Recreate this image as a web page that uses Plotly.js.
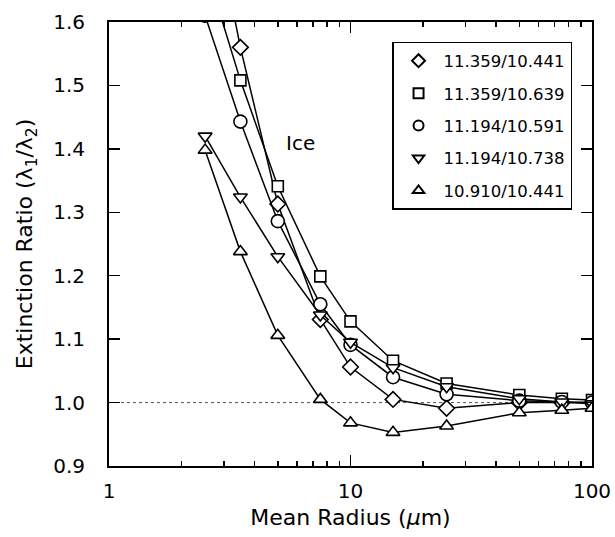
<!DOCTYPE html>
<html>
<head>
<meta charset="utf-8">
<script src="https://cdn.plot.ly/plotly-3.0.1.min.js"></script>
<style>html,body{margin:0;padding:0;background:#fff;}#chart{width:615px;height:537px;}</style>
</head>
<body>
<div id="chart"></div>
<script>
// Mean radius (micrometres)
var radius = [2.5, 3.5, 5, 7.5, 10, 15, 25, 50, 75, 100];

// Extinction ratio series (lambda1/lambda2)
var ratio_11359_10441 = [1.84, 1.56, 1.313, 1.131, 1.056, 1.005, 0.991, 1.0, 1.0, 1.0];
var ratio_11359_10639 = [1.69, 1.508, 1.341, 1.199, 1.128, 1.066, 1.030, 1.012, 1.006, 1.004];
var ratio_11194_10591 = [1.61, 1.443, 1.286, 1.155, 1.091, 1.040, 1.013, 1.003, 1.001, 1.000];
var ratio_11194_10738 = [1.42, 1.324, 1.230, 1.138, 1.095, 1.055, 1.025, 1.006, 1.001, 0.998];
var ratio_10910_10441 = [1.398, 1.238, 1.106, 1.005, 0.968, 0.953, 0.963, 0.984, 0.988, 0.991];

var seriesNames = ['11.359/10.441', '11.359/10.639', '11.194/10.591', '11.194/10.738', '10.910/10.441'];
var seriesValues = [ratio_11359_10441, ratio_11359_10639, ratio_11194_10591, ratio_11194_10738, ratio_10910_10441];
var seriesSymbols = ['diamond', 'square', 'circle', 'triangle-down', 'triangle-up'];
var markerSizes = [12, 11, 13, 12, 12];

var xTickVals = [1, 10, 100];
var xTickText = ['1', '10', '100'];
var xMinorVals = [2, 3, 4, 5, 6, 7, 8, 9, 20, 30, 40, 50, 60, 70, 80, 90];
var yTickVals = [0.9, 1.0, 1.1, 1.2, 1.3, 1.4, 1.5, 1.6];
var yTickText = ['0.9', '1.0', '1.1', '1.2', '1.3', '1.4', '1.5', '1.6'];

var FONT = 'DejaVu Sans, sans-serif';
var traces = [];
for (var i = 0; i < seriesNames.length; i++) {
  traces.push({
    x: radius, y: seriesValues[i], type: 'scatter', mode: 'lines+markers',
    showlegend: false, cliponaxis: true,
    line: {color: '#000', width: 1.5},
    marker: {symbol: seriesSymbols[i], size: markerSizes[i], color: '#fff', line: {color: '#000', width: 1.6}}
  });
}
for (var j = 0; j < seriesNames.length; j++) {
  traces.push({
    x: [null], y: [null], type: 'scatter', mode: 'markers', name: seriesNames[j],
    legendgroup: 'g' + j, showlegend: true,
    marker: {symbol: seriesSymbols[j], size: 10, color: '#fff', line: {color: '#000', width: 2}}
  });
}

var layout = {
  width: 615, height: 537,
  margin: {l: 109, r: 23, t: 22, b: 71},
  paper_bgcolor: '#fff', plot_bgcolor: '#fff',
  font: {family: FONT, color: '#000', size: 20},
  showlegend: true,
  legend: {
    x: 0.586, y: 0.955, xanchor: 'left', yanchor: 'top',
    bordercolor: '#000', borderwidth: 1.5, bgcolor: '#fff',
    font: {family: FONT, size: 16.5, color: '#000'},
    traceorder: 'grouped', tracegroupgap: 8, itemwidth: 40
  },
  xaxis: {
    type: 'log', range: [0, 2],
    tickvals: xTickVals, ticktext: xTickText,
    ticks: 'inside', ticklen: 11, tickwidth: 1.5, tickcolor: '#000',
    minor: {tickvals: xMinorVals, ticks: 'inside', ticklen: 5, tickwidth: 1.5, tickcolor: '#000', showgrid: false},
    showline: true, linewidth: 2, linecolor: '#000', mirror: 'ticks',
    showgrid: false, zeroline: false,
    tickfont: {family: FONT, size: 20}, ticklabelstandoff: 6,
    title: {text: 'Mean Radius (<i>μ</i>m)', font: {family: FONT, size: 22}, standoff: 8}
  },
  yaxis: {
    range: [0.9, 1.6],
    tickvals: yTickVals, ticktext: yTickText,
    ticks: 'inside', ticklen: 11, tickwidth: 1.5, tickcolor: '#000',
    showline: true, linewidth: 2, linecolor: '#000', mirror: 'ticks',
    showgrid: false, zeroline: false,
    tickfont: {family: FONT, size: 20}, ticklabelstandoff: 18,
    title: {text: 'Extinction Ratio (λ<sub>1</sub>/λ<sub>2</sub>)', font: {family: FONT, size: 22}, standoff: 14}
  },
  shapes: [{
    type: 'line', xref: 'paper', yref: 'y', x0: 0, x1: 1, y0: 1.0, y1: 1.0,
    line: {color: '#555', width: 1, dash: 'dot'}, layer: 'below'
  }],
  annotations: [{
    x: Math.log10(6.2), y: 1.41, xref: 'x', yref: 'y', text: 'Ice', showarrow: false,
    font: {family: FONT, size: 20, color: '#000'}
  }]
};

Plotly.newPlot('chart', traces, layout, {displayModeBar: false, staticPlot: true});
</script>
</body>
</html>
